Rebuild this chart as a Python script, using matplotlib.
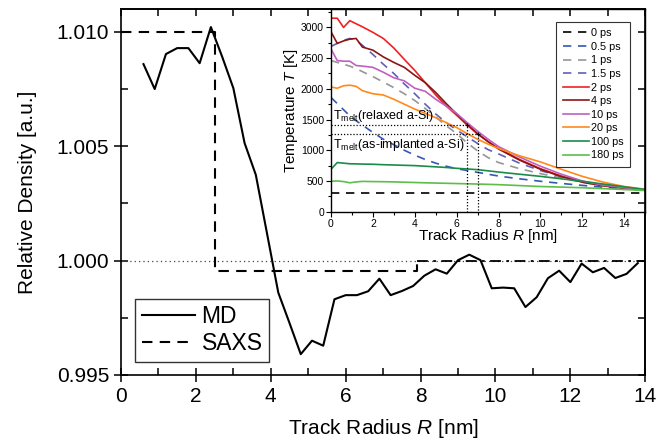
import matplotlib
matplotlib.use("Agg")
import matplotlib.pyplot as plt
from matplotlib.ticker import MultipleLocator

plt.rcParams['font.family'] = ['Liberation Sans', 'DejaVu Sans']
plt.rcParams['mathtext.fontset'] = 'custom'
plt.rcParams['mathtext.rm'] = 'Liberation Sans'
plt.rcParams['mathtext.it'] = 'Liberation Sans:italic'

# MD relative density vs track radius
md_r = [0.6, 0.9, 1.2, 1.5, 1.8, 2.1, 2.4, 2.7, 3.0, 3.3, 3.6, 3.9, 4.2, 4.5, 4.8,
        5.1, 5.4, 5.7, 6.0, 6.3, 6.6, 6.9, 7.2, 7.5, 7.8, 8.1, 8.4, 8.7, 9.0, 9.3,
        9.6, 9.9, 10.2, 10.5, 10.8, 11.1, 11.4, 11.7, 12.0, 12.3, 12.6, 12.9, 13.2,
        13.5, 13.8]
md_d = [1.00859, 1.00750, 1.00903, 1.00929, 1.00929, 1.00863, 1.01021, 1.00892,
        1.00754, 1.00514, 1.00375, 1.00118, 0.99860, 0.99727, 0.99591, 0.99650,
        0.99628, 0.99831, 0.99849, 0.99849, 0.99866, 0.99921, 0.99849, 0.99867,
        0.99889, 0.99934, 0.99962, 0.99943, 1.00002, 1.00026, 1.00002, 0.99879,
        0.99882, 0.99879, 0.99797, 0.99840, 0.99923, 0.99956, 0.99906, 0.99987,
        0.99949, 0.99968, 0.99924, 0.99942, 0.99989]

# SAXS step profile
saxs_r = [0, 2.5, 2.5, 7.9, 7.9]
saxs_d = [1.010, 1.010, 0.99955, 0.99955, 1.000]
saxs_tail_r = [7.9, 14]
saxs_tail_d = [1.000, 1.000]

# temperature profiles (inset)
t_r = [0, 0.3, 0.6, 0.9, 1.2, 1.5, 2, 2.5, 3, 3.5, 4, 4.5, 5, 5.5, 6, 6.5, 7,
       7.5, 8, 9, 10, 11, 12, 13, 14, 15]
temp = {
    "0 ps":   [300] * 26,
    "0.5 ps": [1860, 1760, 1660, 1560, 1480, 1410, 1290, 1180, 1090, 1000, 920, 850,
               790, 740, 700, 670, 640, 610, 580, 535, 495, 460, 428, 398, 375, 358],
    "1 ps":   [2460, 2430, 2400, 2370, 2330, 2280, 2200, 2110, 2020, 1920, 1810, 1680,
               1540, 1400, 1270, 1120, 990, 880, 800, 700, 620, 545, 478, 425, 385, 355],
    "1.5 ps": [2690, 2740, 2790, 2820, 2790, 2710, 2560, 2400, 2250, 2080, 1920, 1750,
               1590, 1450, 1330, 1220, 1110, 1010, 940, 790, 670, 570, 490, 430, 385, 355],
    "2 ps":   [3150, 3150, 3000, 3110, 3060, 3010, 2920, 2820, 2665, 2480, 2300, 2100,
               1900, 1720, 1570, 1410, 1265, 1140, 1030, 850, 700, 580, 490, 430, 385, 355],
    "4 ps":   [2930, 2740, 2780, 2810, 2820, 2680, 2630, 2520, 2430, 2350, 2220, 2100,
               1940, 1760, 1590, 1425, 1270, 1140, 1020, 840, 690, 570, 480, 420, 380, 350],
    "10 ps":  [2650, 2460, 2450, 2450, 2380, 2370, 2350, 2270, 2180, 2130, 2010, 1960,
               1830, 1720, 1600, 1450, 1310, 1180, 1060, 890, 740, 610, 500, 430, 390, 355],
    "20 ps":  [2030, 2010, 2050, 2060, 2040, 1970, 1920, 1900, 1830, 1750, 1670, 1600,
               1530, 1450, 1370, 1270, 1180, 1100, 1030, 910, 810, 690, 575, 480, 410, 365],
    "100 ps": [690, 800, 790, 780, 778, 775, 772, 765, 760, 755, 750, 740, 730, 720,
               706, 695, 684, 665, 645, 610, 575, 535, 495, 450, 405, 360],
    "180 ps": [495, 500, 490, 470, 485, 493, 490, 488, 485, 480, 475, 470, 466, 462,
               458, 454, 450, 445, 440, 425, 410, 400, 390, 375, 360, 345],
}
colors = ["black", "#3558b5", "#969696", "#6060b4", "#ee2222", "#8b1515",
          "#c060c0", "#ff8a1c", "#1a8c48", "#5cbf48"]
dashed = ["0 ps", "0.5 ps", "1 ps", "1.5 ps"]

# melting points of a-Si
tm_relaxed, r_relaxed = 1410, 6.5
tm_implanted, r_implanted = 1260, 7.0

fig = plt.figure(figsize=(6.7, 4.41), dpi=100)
ax = fig.add_axes([0.1806, 0.1497, 0.7825, 0.8299])

ax.plot([0, 14], [1.0, 1.0], ls=(0, (1, 2.5)), color="#444444", lw=0.9)
ax.plot(md_r, md_d, color="black", lw=1.5, label="MD")
ax.plot(saxs_r, saxs_d, color="black", lw=1.5, ls=(0, (5, 3.5)), label="SAXS")
ax.plot(saxs_tail_r, saxs_tail_d, color="black", lw=1.3, ls=(0, (6, 3, 1.5, 3)))

ax.set_xlim(0, 14)
ax.set_ylim(0.995, 1.011)
ax.set_yticks([0.995, 1.000, 1.005, 1.010])
ax.set_yticklabels(["0.995", "1.000", "1.005", "1.010"])
ax.xaxis.set_major_locator(MultipleLocator(2))
ax.xaxis.set_minor_locator(MultipleLocator(1))
ax.yaxis.set_minor_locator(MultipleLocator(0.0025))
ax.tick_params(which="major", direction="inout", length=10, width=1.1, labelsize=15)
ax.tick_params(which="minor", direction="in", length=5, width=1.1)
for s in ax.spines.values():
    s.set_linewidth(1.2)
ax.set_xlabel("Track Radius $\\mathit{R}$ [nm]", fontsize=15, labelpad=8)
ax.set_ylabel("Relative Density [a.u.]", fontsize=15, labelpad=14)

leg = ax.legend(loc="lower left", bbox_to_anchor=(0.027, 0.036), borderaxespad=0,
                fontsize=16.5, frameon=True, fancybox=False, handlelength=2.3,
                handletextpad=0.3, labelspacing=0.15, borderpad=0.3)
leg.get_frame().set_edgecolor("black")
leg.get_frame().set_linewidth(1.0)

# inset with temperature profiles
ins = fig.add_axes([0.494, 0.520, 0.469, 0.4596])
ins.set_zorder(3)
ins.set_facecolor("white")
for (lab, vals), c in zip(temp.items(), colors):
    if lab in dashed:
        ins.plot(t_r, vals, color=c, lw=1.2, ls=(0, (5, 4)), label=lab)
    else:
        ins.plot(t_r, vals, color=c, lw=1.2, label=lab)

ins.plot([0, r_relaxed, r_relaxed], [tm_relaxed, tm_relaxed, 0], color="black",
         lw=0.9, ls=(0, (1, 1.5)))
ins.plot([0, r_implanted, r_implanted], [tm_implanted, tm_implanted, 0], color="black",
         lw=0.9, ls=(0, (1, 1.5)))
ins.plot([r_relaxed, r_implanted], [tm_relaxed, tm_implanted], ls="none", marker="+",
         ms=3, color="black", mew=0.8)
ins.text(0.1, tm_relaxed + 20, "T$_{\\rm melt}$(relaxed a-Si)", fontsize=9, va="bottom")
ins.text(0.1, tm_implanted - 40, "T$_{\\rm melt}$(as-implanted a-Si)", fontsize=9, va="top")

ins.set_xlim(0, 15)
ins.set_ylim(0, 3300)
ins.xaxis.set_major_locator(MultipleLocator(2))
ins.xaxis.set_minor_locator(MultipleLocator(1))
ins.yaxis.set_major_locator(MultipleLocator(500))
ins.yaxis.set_minor_locator(MultipleLocator(250))
ins.tick_params(which="major", direction="out", length=3.5, width=0.8, labelsize=7.5, pad=1.5)
ins.tick_params(which="minor", direction="out", length=2, width=0.8)
for s in ins.spines.values():
    s.set_linewidth(1.0)
ins.set_xlabel("Track Radius $\\mathit{R}$ [nm]", fontsize=11, labelpad=-1)
ins.set_ylabel("Temperature $\\mathit{T}$ [K]", fontsize=11, labelpad=1)
ileg = ins.legend(loc="upper right", bbox_to_anchor=(0.952, 0.937), borderaxespad=0,
                  fontsize=7.8, frameon=True, fancybox=False, handlelength=2.4,
                  handletextpad=0.2, labelspacing=0.33, borderpad=0.6)
ileg.get_frame().set_edgecolor("black")
ileg.get_frame().set_linewidth(0.8)

# top and right ticks of the main frame, drawn over the inset
frame = fig.add_axes(ax.get_position(), facecolor="none")
frame.set_zorder(4)
frame.set_xlim(ax.get_xlim())
frame.set_ylim(ax.get_ylim())
frame.xaxis.set_major_locator(MultipleLocator(2))
frame.xaxis.set_minor_locator(MultipleLocator(1))
frame.yaxis.set_major_locator(MultipleLocator(0.005))
frame.yaxis.set_minor_locator(MultipleLocator(0.0025))
frame.tick_params(which="both", direction="in", length=5, width=1.1,
                  top=True, right=True, bottom=False, left=False,
                  labeltop=False, labelright=False, labelbottom=False, labelleft=False)
for side in ["left", "bottom"]:
    frame.spines[side].set_visible(False)
for side in ["top", "right"]:
    frame.spines[side].set_linewidth(1.2)

fig.savefig("out.png", dpi=100)
